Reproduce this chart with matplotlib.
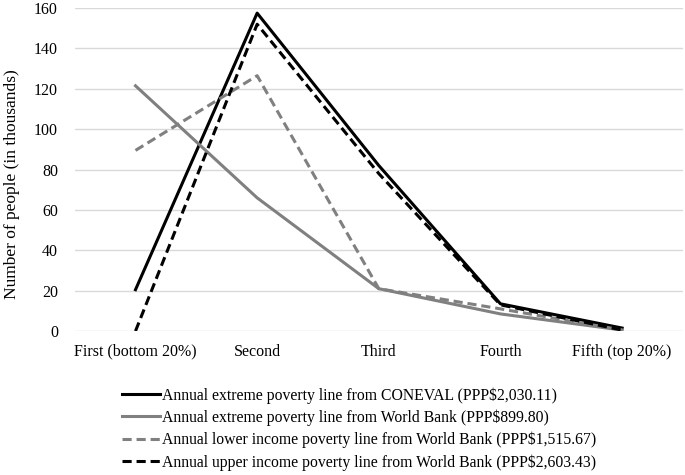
import matplotlib
matplotlib.use("Agg")
import matplotlib.pyplot as plt

categories = ["First (bottom 20%)", "Second", "Third", "Fourth", "Fifth (top 20%)"]
coneval_extreme = [20.5, 157.5, 82, 13.5, 1.5]
wb_extreme = [121.5, 66, 21, 8.5, 0.5]
wb_lower = [89.5, 126.5, 21, 11, 0.5]
wb_upper = [0, 152, 78, 13, 0.5]
labels = [
    "Annual extreme poverty line from CONEVAL (PPP$2,030.11)",
    "Annual extreme poverty line from World Bank (PPP$899.80)",
    "Annual lower income poverty line from World Bank (PPP$1,515.67)",
    "Annual upper income poverty line from World Bank (PPP$2,603.43)",
]
yticks = [0, 20, 40, 60, 80, 100, 120, 140, 160]

plt.rcParams['font.family'] = ['Liberation Serif', 'DejaVu Serif']

fig = plt.figure(figsize=(6.85, 4.75), dpi=100)
ax = fig.add_axes([0.109, 0.303, 0.888, 0.680])
x = list(range(len(categories)))
ax.plot(x, coneval_extreme, color='black', lw=2.2, label=labels[0])
ax.plot(x, wb_extreme, color='#808080', lw=2.2, label=labels[1])
ax.plot(x, wb_lower, color='#808080', lw=2.2, ls=(0, (3, 1.6)), label=labels[2])
ax.plot(x, wb_upper, color='black', lw=2.2, ls=(0, (3, 1.6)), label=labels[3])

ax.set_xlim(-0.5, 4.5)
ax.set_ylim(0, 160)
ax.set_yticks(yticks)
ax.set_xticks(x)
ax.set_xticklabels(categories, fontsize=11.5)
ax.tick_params(axis='y', labelsize=11.5, length=0, pad=12)
ax.tick_params(axis='x', length=0, pad=9)
ax.grid(axis='y', color='#d9d9d9', lw=1)
ax.set_axisbelow(True)
for s in ax.spines.values():
    s.set_visible(False)
ax.set_ylabel("Number of people (in thousands)", fontsize=12.5)
ax.yaxis.set_label_coords(-0.09, 0.455)

leg = fig.legend(*ax.get_legend_handles_labels(), loc='upper left',
                 bbox_to_anchor=(122 / 685, 1 - 387 / 475), frameon=False,
                 fontsize=11.3, handlelength=2.42, handletextpad=0.13,
                 labelspacing=0.38, borderpad=0, borderaxespad=0)
fig.savefig("out.png", dpi=100)
